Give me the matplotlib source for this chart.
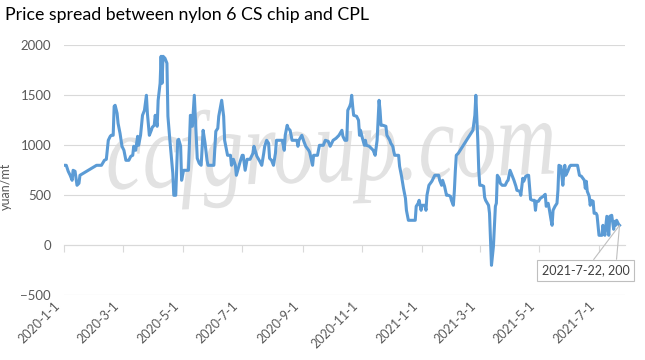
import matplotlib
matplotlib.use('Agg')
import matplotlib.pyplot as plt
import matplotlib.dates as mdates
import matplotlib.transforms as mtransforms
from matplotlib.textpath import TextPath
from matplotlib.patches import PathPatch
from matplotlib.font_manager import FontProperties
import pandas as pd

title = 'Price spread between nylon 6 CS chip and CPL'
y_label = 'yuan/mt'
start = '2020-01-01'
end_label = '2021-7-22, 200'
watermark = 'ccfgroup.com'

# days since 2020-1-1 and spread (yuan/mt)
day = [0, 2, 4, 6, 8, 9, 11, 13, 15, 16, 33, 38, 41, 43, 45, 47, 48, 50, 51, 52,
       54, 55, 57, 59, 61, 63, 66, 68, 70, 71, 73, 75, 76, 78, 80, 82, 84, 85, 87, 89,
       90, 92, 93, 95, 96, 98, 99, 100, 101, 103, 105, 106, 108, 111, 112, 114, 116, 117, 119, 120,
       122, 124, 127, 129, 131, 133, 134, 136, 138, 140, 142, 144, 146, 147, 151, 153, 155, 157, 158, 161,
       163, 164, 167, 170, 171, 173, 175, 176, 178, 180, 182, 183, 185, 187, 190, 193, 194, 197, 200, 202,
       204, 205, 207, 209, 210, 212, 214, 216, 217, 221, 223, 225, 226, 228, 229, 231, 233, 236, 238, 239,
       240, 243, 245, 247, 250, 251, 253, 254, 255, 259, 261, 265, 267, 270, 272, 275, 278, 281, 284, 285,
       287, 289, 290, 292, 293, 294, 295, 296, 299, 301, 302, 303, 305, 307, 308, 309, 312, 314, 316, 318,
       320, 321, 322, 323, 324, 326, 329, 330, 333, 334, 336, 337, 338, 342, 343, 345, 347, 349, 350, 352,
       359, 360, 362, 363, 365, 366, 369, 370, 371, 373, 376, 379, 383, 384, 386, 387, 389, 391, 393, 395,
       396, 398, 399, 400, 401, 403, 418, 420, 421, 423, 424, 425, 427, 429, 430, 431, 434, 435, 436, 437,
       439, 441, 442, 443, 445, 446, 448, 451, 453, 454, 456, 458, 460, 462, 463, 466, 467, 469, 470, 472,
       474, 475, 477, 479, 481, 482, 483, 485, 487, 490, 492, 493, 495, 496, 498, 499, 500, 502, 504, 505,
       506, 508, 510, 511, 512, 513, 515, 517, 518, 522, 525, 527, 529, 532, 533, 534, 535, 537, 538, 539,
       541, 542, 544, 545, 547, 550, 551, 553, 555, 557, 558, 560, 562, 563, 564, 565, 566, 567, 568]
spread = [800, 800, 740, 700, 650, 750, 740, 600, 620, 700, 800, 800, 850, 860, 1050, 1090, 1100, 1100, 1390, 1400,
          1320, 1220, 1120, 990, 950, 850, 850, 890, 900, 990, 950, 1090, 1000, 1100, 1300, 1350, 1500, 1320, 1100, 1150,
          1180, 1200, 1300, 1190, 1450, 1620, 1890, 1620, 1890, 1870, 1820, 1290, 1050, 720, 500, 500, 1050, 1060, 990, 650,
          750, 750, 750, 1300, 1190, 1500, 1290, 870, 820, 800, 1150, 1020, 850, 800, 800, 800, 1140, 1170, 1290, 1450,
          1290, 1050, 900, 900, 800, 860, 800, 700, 770, 840, 900, 900, 750, 860, 860, 920, 990, 890, 840, 800,
          920, 990, 1050, 1020, 870, 850, 800, 920, 1050, 1050, 1050, 950, 1100, 1200, 1170, 1150, 1050, 1050, 1050, 990,
          1050, 1100, 1040, 990, 950, 930, 840, 800, 900, 900, 1000, 1000, 1050, 1040, 990, 1050, 1070, 1100, 1150, 1090,
          1050, 1050, 1350, 1390, 1420, 1500, 1390, 1300, 1290, 1250, 1100, 1150, 1070, 1000, 1050, 1000, 990, 970, 950, 900,
          1050, 1250, 1450, 1350, 1200, 1200, 1190, 1100, 1050, 1020, 990, 940, 900, 900, 790, 690, 570, 470, 350, 250,
          250, 390, 420, 450, 350, 400, 400, 350, 500, 600, 640, 700, 700, 650, 600, 650, 590, 500, 500, 490,
          450, 400, 540, 740, 900, 920, 1150, 1300, 1500, 1050, 750, 600, 600, 590, 480, 450, 400, 320, 50, -200,
          -10, 390, 420, 700, 670, 620, 600, 600, 640, 650, 750, 700, 650, 590, 550, 540, 500, 670, 640, 690,
          700, 700, 460, 450, 450, 350, 440, 440, 470, 490, 510, 390, 420, 370, 250, 200, 350, 390, 420, 550,
          800, 790, 600, 720, 800, 700, 740, 790, 800, 800, 800, 700, 690, 650, 570, 640, 540, 490, 400, 450,
          440, 320, 320, 300, 100, 100, 200, 100, 290, 100, 290, 300, 160, 240, 200, 250, 230, 210, 200]

tick_labels = ['2020-1-1', '2020-3-1', '2020-5-1', '2020-7-1', '2020-9-1',
               '2020-11-1', '2021-1-1', '2021-3-1', '2021-5-1', '2021-7-1']
y_ticks = [-500, 0, 500, 1000, 1500, 2000]

t0 = mdates.date2num(pd.Timestamp(start))
x = [t0 + d for d in day]
xt = mdates.date2num(pd.to_datetime(tick_labels))

plt.rcParams['font.family'] = ['Lato', 'DejaVu Sans']
grey = '#d9d9d9'
txt = '#595959'

fig = plt.figure(figsize=(6.45, 3.6), dpi=100)
ax = fig.add_axes([0.0997, 0.1797, 0.8693, 0.6945])

# faint watermark, stretched to the reference's tall italic shape
tp = TextPath((0, 0), watermark, size=1,
              prop=FontProperties(family='Liberation Serif', style='italic'))
ext = tp.get_extents()
wm_tr = (mtransforms.Affine2D().translate(-ext.x0, -ext.y0)
         .scale(445 / ext.width, 99 / ext.height)
         .rotate_deg(2).translate(110, 148))
fig.add_artist(PathPatch(wm_tr.transform_path(tp), transform=mtransforms.IdentityTransform(),
                         fc='#e2e2e2', ec='none', zorder=0))
ax.patch.set_alpha(0)

ax.plot(x, spread, color='#5b9bd5', lw=2.2, zorder=3, solid_joinstyle='round')

ax.set_ylim(-500, 2000)
ax.set_xlim(t0, t0 + 573.6)
ax.set_yticks(y_ticks)
ax.yaxis.grid(True, color=grey, lw=0.8)
ax.set_axisbelow(True)
for s in ['top', 'right', 'left']:
    ax.spines[s].set_visible(False)
ax.spines['bottom'].set_position(('data', 0))
ax.spines['bottom'].set_color(grey)
ax.spines['bottom'].set_linewidth(0.8)
ax.set_xticks(xt)
ax.tick_params(axis='x', length=5, color=grey, width=0.8, labelbottom=False)
ax.tick_params(axis='y', length=0, pad=9.5, labelsize=9.5, labelcolor=txt)

sec = ax.secondary_xaxis('bottom')
sec.set_xticks(xt)
sec.set_xticklabels(tick_labels, rotation=45, ha='right', rotation_mode='anchor', va='center')
sec.tick_params(length=0, pad=6, labelsize=9, labelcolor=txt)
sec.spines['bottom'].set_visible(False)
shift = mtransforms.ScaledTranslation(-6 / 100, 0, fig.dpi_scale_trans)
for lab in sec.get_xticklabels():
    lab.set_transform(lab.get_transform() + shift)

ax.set_ylabel(y_label, fontsize=9, color=txt)
ax.yaxis.set_label_coords(-0.093, 0.437)

fig.text(5 / 645, 1 - 15 / 360, title, size=12.8, ha='left', va='center', color='#000000')

arrow = dict(arrowstyle='-', color='#bfbfbf', lw=0.8, shrinkA=0, shrinkB=0)
ax.annotate(end_label, xy=(x[-1], spread[-1]), xytext=(-34, -45), textcoords='offset pixels',
            ha='center', va='center', fontsize=9, color='#404040',
            bbox=dict(boxstyle='square,pad=0.35', fc='white', ec='#bfbfbf', lw=0.8),
            arrowprops=arrow, zorder=5)
ax.annotate('', xy=(x[-1], spread[-1]), xytext=(-3, -34), textcoords='offset pixels',
            arrowprops=arrow, zorder=4)

fig.savefig('out.png', dpi=100)
